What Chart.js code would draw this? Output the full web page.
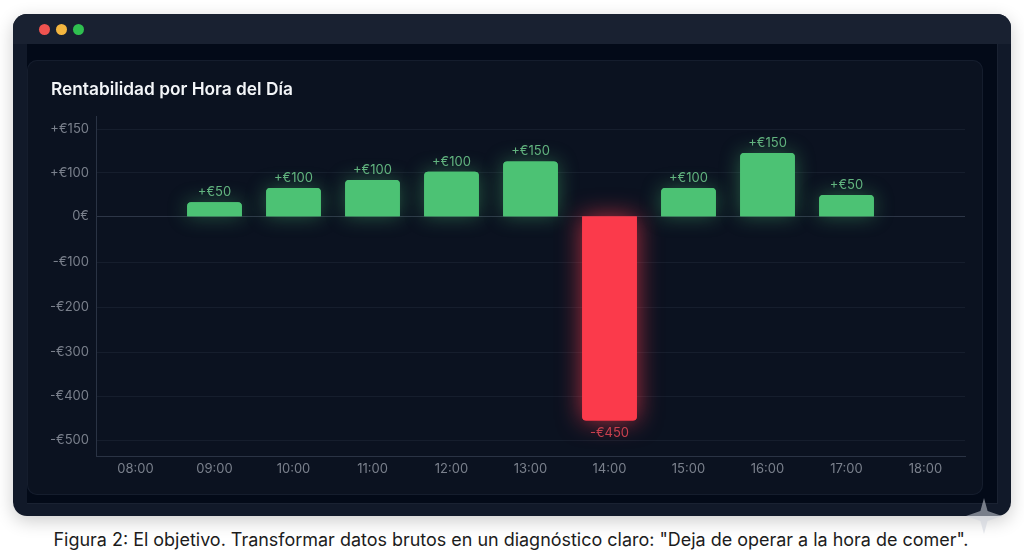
<!DOCTYPE html>
<html lang="es">
<head>
<meta charset="utf-8">
<title>Rentabilidad por Hora del Día</title>
<script src="https://cdn.jsdelivr.net/npm/chart.js@4"></script>
<style>
  html, body { margin: 0; padding: 0; background: #fff; width: 1024px; height: 559px; overflow: hidden; font-family: Inter, sans-serif; }
  .window { position: absolute; left: 13px; top: 14px; width: 998px; height: 502px; background: #111929; border-radius: 14px; box-shadow: 0 5px 18px rgba(0,0,0,.2); overflow: hidden; }
  .titlebar { position: absolute; left: 0; top: 0; width: 100%; height: 30px; background: #192131; }
  .dot { position: absolute; top: 9.5px; width: 11px; height: 11px; border-radius: 50%; }
  .inner { position: absolute; left: 14px; top: 30px; width: 970px; height: 459px; background: #030a18; border-right: 1px solid #1a2232; border-bottom: 1px solid #1a2232; }
  .card { position: absolute; left: 27px; top: 60px; width: 956px; height: 435px; background: #0b1220; border-radius: 10px; box-shadow: inset 0 0 0 1px #151d2d; }
  canvas { position: absolute; left: 27px; top: 60px; }
  .caption { position: absolute; left: 0; width: 1022px; top: 530px; text-align: center; font-size: 17.97px; line-height: 20px; color: #1c1c1c; white-space: nowrap; }
  .spark { position: absolute; left: 966px; top: 498px; width: 36px; height: 36px; background: rgba(205,210,218,.55); clip-path: polygon(50% 0, 60% 36%, 100% 50%, 60% 64%, 50% 100%, 40% 64%, 0 50%, 40% 36%); }
</style>
</head>
<body>
<div class="window">
  <div class="titlebar">
    <span class="dot" style="left:25.5px;background:#ef5350"></span>
    <span class="dot" style="left:42.5px;background:#f4b63f"></span>
    <span class="dot" style="left:59.5px;background:#2fc050"></span>
  </div>
  <div class="inner"></div>
</div>
<div class="card"></div>
<canvas id="chart" width="956" height="435" style="width:956px;height:435px"></canvas>
<div class="spark"></div>
<div class="caption">Figura 2: El objetivo. Transformar datos brutos en un diagnóstico claro: "Deja de operar a la hora de comer".</div>
<script>
const chartTitle = "Rentabilidad por Hora del Día";
const hours = ["08:00", "09:00", "10:00", "11:00", "12:00", "13:00", "14:00", "15:00", "16:00", "17:00", "18:00"];
// bar heights as read against the axis; the printed labels do not always agree with them
const profit = [null, 31, 63, 81, 99, 122, -456, 63, 141, 47, null];
const barLabels = ["", "+€50", "+€100", "+€100", "+€100", "+€150", "-€450", "+€100", "+€150", "+€50", ""];
const tickValues = [195, 98, 0, -103, -203, -304, -402, -501];
const tickLabels = ["+€150", "+€100", "0€", "-€100", "-€200", "-€300", "-€400", "-€500"];

const green = "#4cc274";
const red = "#fb3a4b";

// soft glow under every bar, drawn with the bar's own element
const glowPlugin = {
  id: "glow",
  beforeDatasetsDraw(chart) {
    const ctx = chart.ctx;
    chart.getDatasetMeta(0).data.forEach((bar, i) => {
      if (profit[i] === null) return;
      ctx.save();
      ctx.shadowColor = profit[i] < 0 ? "rgba(251,58,75,.7)" : "rgba(76,194,116,.42)";
      ctx.shadowBlur = profit[i] < 0 ? 24 : 20;
      bar.draw(ctx);
      ctx.restore();
    });
  }
};

const barLabelPlugin = {
  id: "barLabels",
  afterDatasetsDraw(chart) {
    const ctx = chart.ctx;
    ctx.save();
    ctx.font = "13px Inter";
    ctx.textAlign = "center";
    ctx.textBaseline = "middle";
    chart.getDatasetMeta(0).data.forEach((bar, i) => {
      if (profit[i] === null) return;
      const neg = profit[i] < 0;
      ctx.fillStyle = neg ? "#c8404e" : "#62b47f";
      ctx.fillText(barLabels[i], bar.x, bar.y + (neg ? 12.5 : -10.5));
    });
    ctx.restore();
  }
};

new Chart(document.getElementById("chart"), {
  type: "bar",
  data: {
    labels: hours,
    datasets: [{
      data: profit,
      backgroundColor: profit.map(v => v < 0 ? red : green),
      barThickness: 54,
      borderRadius: 4
    }]
  },
  options: {
    responsive: false,
    animation: false,
    events: [],
    layout: { padding: { left: 24, right: 18, top: 19, bottom: 0 } },
    plugins: {
      legend: { display: false },
      tooltip: { enabled: false },
      title: {
        display: true,
        text: chartTitle,
        align: "start",
        color: "#f3f5f8",
        font: { family: "Inter", size: 17.3, weight: "600" },
        padding: { top: 0, bottom: 17 }
      }
    },
    scales: {
      x: {
        grid: { display: false },
        border: { color: "#2a3344", width: 1 },
        ticks: { color: "#7a808c", font: { family: "Inter", size: 13 }, padding: -3, maxRotation: 0, autoSkip: false },
        afterFit(axis) { axis.height = 39; }
      },
      y: {
        min: -536,
        max: 223,
        afterBuildTicks(axis) { axis.ticks = tickValues.map(v => ({ value: v })); },
        grid: {
          color: ctx => ctx.tick.value === 0 ? "#2d3647" : "#161e2d",
          drawTicks: false
        },
        border: { color: "#2a3344", width: 1 },
        ticks: {
          color: "#7a808c",
          font: { family: "Inter", size: 13 },
          padding: 7,
          autoSkip: false,
          callback: (v) => tickLabels[tickValues.indexOf(v)]
        },
        afterFit(axis) { axis.width = 45; }
      }
    }
  },
  plugins: [glowPlugin, barLabelPlugin]
});
</script>
</body>
</html>
